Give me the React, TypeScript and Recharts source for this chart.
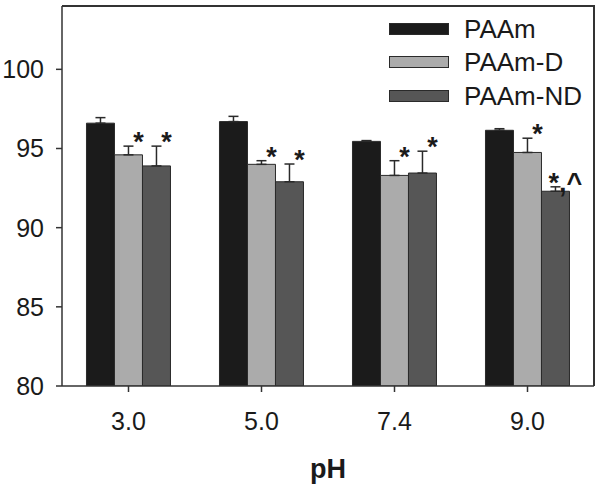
import { BarChart, Bar, XAxis, YAxis, ErrorBar, LabelList, Legend, Label } from 'recharts';

const categories = ['3.0', '5.0', '7.4', '9.0'];

const paam = [96.6, 96.7, 95.45, 96.15];
const paamErr = [0.35, 0.33, 0.05, 0.1];
const paamD = [94.6, 94.0, 93.3, 94.75];
const paamDErr = [0.55, 0.23, 0.93, 0.9];
const paamND = [93.9, 92.9, 93.45, 92.3];
const paamNDErr = [1.25, 1.12, 1.38, 0.28];

const sigD = ['*', '*', '*', '*'];
const sigND = ['*', '*', '*', '*,^'];

const yTicks = [80, 85, 90, 95, 100];
const Y_MIN = 80;
const Y_MAX = 104;

const FONT = '"Liberation Sans", Arial, Helvetica, sans-serif';

const W = 600;
const H = 488;
const MARGIN = { top: 6, right: 6, bottom: 0, left: 0 };
const Y_AXIS_W = 62;
const X_AXIS_H = 102;

// drop the default 8px body margin so the chart sits at the page origin
if (typeof document !== 'undefined') {
  document.body.style.margin = '0';
}

const series = [
  { key: 'paam', name: 'PAAm', color: '#1b1b1b' },
  { key: 'paamD', name: 'PAAm-D', color: '#ababab' },
  { key: 'paamND', name: 'PAAm-ND', color: '#565656' },
];

const data = categories.map((ph, i) => ({
  ph,
  paam: paam[i],
  paamErr: [0, paamErr[i]],
  paamD: paamD[i],
  paamDErr: [0, paamDErr[i]],
  paamND: paamND[i],
  paamNDErr: [0, paamNDErr[i]],
}));

// asterisks sit just above and to the right of the error bar cap
function makeSigLabel(values: number[], errs: number[], marks: string[]) {
  return (props: any) => {
    const { x, y, width, height, index } = props;
    const v = values[index];
    const pxPerUnit = height / (v - Y_MIN);
    const errTop = y - errs[index] * pxPerUnit;
    return (
      <text
        x={x + width / 2 + 10}
        y={errTop + 5}
        textAnchor="middle"
        fontFamily={FONT}
        fontWeight="bold"
        fontSize={27}
        fill="#1a1a1a"
      >
        {marks[index]}
      </text>
    );
  };
}

function LegendBox() {
  return (
    <div style={{ fontFamily: FONT }}>
      {series.map((s) => (
        <div key={s.key} style={{ display: 'flex', alignItems: 'center', height: 33.5 }}>
          <span
            style={{
              display: 'inline-block',
              width: 60,
              height: 12,
              boxSizing: 'border-box',
              background: s.color,
              border: '1.5px solid #2a2a2a',
            }}
          />
          <span style={{ marginLeft: 15, fontSize: 26, color: '#1a1a1a', lineHeight: 1 }}>{s.name}</span>
        </div>
      ))}
    </div>
  );
}

export default function App() {
  const plotLeft = MARGIN.left + Y_AXIS_W;
  const plotWidth = W - plotLeft - MARGIN.right;
  const plotHeight = H - MARGIN.top - MARGIN.bottom - X_AXIS_H;
  return (
    <div style={{ position: 'relative', width: W, height: H, background: '#fff' }}>
      <BarChart
        width={W}
        height={H}
        data={data}
        margin={MARGIN}
        barCategoryGap="18.4%"
        barGap={0}
      >
        <XAxis
          dataKey="ph"
          height={X_AXIS_H}
          tickLine={{ stroke: '#333', strokeWidth: 1.5 }}
          axisLine={{ stroke: '#333', strokeWidth: 1.5 }}
          tickSize={6}
          tickMargin={20}
          tick={{ fill: '#1a1a1a', fontSize: 25, fontFamily: FONT }}
        >
          <Label
            value="pH"
            position="insideBottom"
            offset={10}
            style={{ fontFamily: FONT, fontSize: 27, fontWeight: 'bold', fill: '#1a1a1a' }}
          />
        </XAxis>
        <YAxis
          domain={[Y_MIN, Y_MAX]}
          ticks={yTicks}
          width={Y_AXIS_W}
          allowDataOverflow
          tickLine={{ stroke: '#333', strokeWidth: 1.5 }}
          axisLine={{ stroke: '#333', strokeWidth: 1.5 }}
          tickSize={6}
          tickMargin={12}
          tick={{ fill: '#1a1a1a', fontSize: 25, fontFamily: FONT }}
        />
        <Legend
          layout="vertical"
          align="center"
          verticalAlign="middle"
          content={<LegendBox />}
          wrapperStyle={{ top: 12, left: 389, width: 'auto', height: 'auto' }}
        />
        <Bar dataKey="paam" name="PAAm" fill="#1b1b1b" stroke="#2a2a2a" strokeWidth={1} isAnimationActive={false}>
          <ErrorBar dataKey="paamErr" direction="y" width={5} stroke="#2a2a2a" strokeWidth={1.5} />
        </Bar>
        <Bar dataKey="paamD" name="PAAm-D" fill="#ababab" stroke="#2a2a2a" strokeWidth={1} isAnimationActive={false}>
          <ErrorBar dataKey="paamDErr" direction="y" width={5} stroke="#2a2a2a" strokeWidth={1.5} />
          <LabelList dataKey="paamD" content={makeSigLabel(paamD, paamDErr, sigD)} />
        </Bar>
        <Bar dataKey="paamND" name="PAAm-ND" fill="#565656" stroke="#2a2a2a" strokeWidth={1} isAnimationActive={false}>
          <ErrorBar dataKey="paamNDErr" direction="y" width={5} stroke="#2a2a2a" strokeWidth={1.5} />
          <LabelList dataKey="paamND" content={makeSigLabel(paamND, paamNDErr, sigND)} />
        </Bar>
      </BarChart>
      {/* top and right edges of the plot frame */}
      <div
        style={{
          position: 'absolute',
          zIndex: 5,
          left: plotLeft,
          top: MARGIN.top - 1,
          width: plotWidth + 1,
          height: plotHeight + 1,
          borderTop: '2px solid #333',
          borderRight: '2px solid #333',
          boxSizing: 'border-box',
          pointerEvents: 'none',
        }}
      />
    </div>
  );
}
